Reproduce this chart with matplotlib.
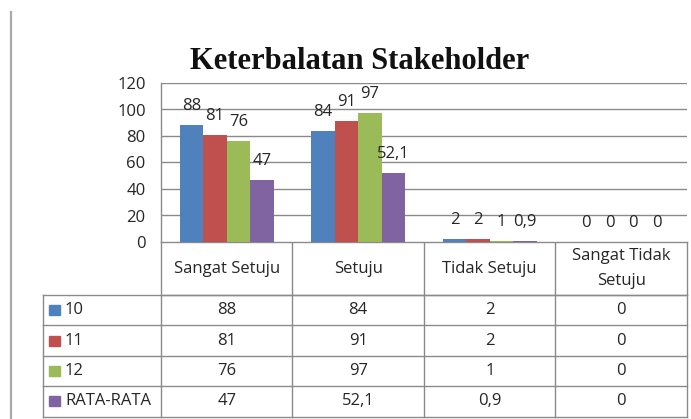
import matplotlib
matplotlib.use("Agg")
import matplotlib.pyplot as plt
from matplotlib.patches import Rectangle
from matplotlib.lines import Line2D

# ---- data ----
categories = ["Sangat Setuju", "Setuju", "Tidak Setuju", "Sangat Tidak\nSetuju"]
series_names = ["10", "11", "12", "RATA-RATA"]
values_10 = [88, 84, 2, 0]
values_11 = [81, 91, 2, 0]
values_12 = [76, 97, 1, 0]
values_avg = [47, 52.1, 0.9, 0]
series_values = [values_10, values_11, values_12, values_avg]
colors = ["#4F81BD", "#C0504D", "#9BBB59", "#8064A2"]
yticks = [0, 20, 40, 60, 80, 100, 120]
title = "Keterbalatan Stakeholder"


def fmt(v):
    s = ("%g" % v)
    return s.replace(".", ",")


W, H = 691, 419
DPI = 100
fig = plt.figure(figsize=(W / DPI, H / DPI), dpi=DPI)
fig.patch.set_facecolor("white")

TXT = "#262626"
GRID = "#8a8a8a"
FONT = "Open Sans"
FS = 12

# layout in pixels
px_left, px_right = 161, 687
px_top, px_zero = 83, 242
ax = fig.add_axes([px_left / W, (H - px_zero) / H,
                   (px_right - px_left) / W, (px_zero - px_top) / H])
ax.set_xlim(-0.5, len(categories) - 0.5)
ax.set_ylim(0, 120)

bw = 0.179
n = len(series_values)
for i, (vals, col) in enumerate(zip(series_values, colors)):
    xs = [c + (i - (n - 1) / 2) * bw for c in range(len(categories))]
    ax.bar(xs, vals, width=bw, color=col, zorder=3)
    for x, v in zip(xs, vals):
        ax.annotate(fmt(v), xy=(x, v), xytext=(0, 13.7), textcoords="offset points",
                    ha="center", va="center", fontsize=FS, color=TXT,
                    family=FONT, zorder=4)

ax.set_yticks(yticks)
ax.set_yticklabels([str(t) for t in yticks], fontsize=FS, color=TXT, family=FONT)
ax.tick_params(axis="y", length=0, pad=11)
ax.set_xticks([])
for g in yticks[1:]:
    ax.axhline(g, color=GRID, lw=1.0, zorder=1)
for s in ["top", "right"]:
    ax.spines[s].set_visible(False)
ax.spines["left"].set_color(GRID)
ax.spines["bottom"].set_color(GRID)
ax.spines["left"].set_linewidth(1.0)
ax.spines["bottom"].set_linewidth(1.0)

# ---- overlay in pixel coords for the data table ----
ov = fig.add_axes([0, 0, 1, 1], zorder=-1)
ov.set_xlim(0, W)
ov.set_ylim(H, 0)
ov.axis("off")

col_w = (px_right - px_left) / len(categories)
col_edges = [px_left + k * col_w for k in range(len(categories) + 1)]
hdr_bottom = 295
row_h = 30.4
row_edges = [hdr_bottom + k * row_h for k in range(len(series_names) + 1)]
lab_left = 43


def hline(x0, x1, y):
    ov.add_line(Line2D([x0, x1], [y, y], color=GRID, lw=1.0))


def vline(x, y0, y1):
    ov.add_line(Line2D([x, x], [y0, y1], color=GRID, lw=1.0))


# header
hline(px_left, px_right, hdr_bottom)
for xe in col_edges:
    vline(xe, px_zero, row_edges[-1])
for y in row_edges:
    hline(lab_left, px_right, y)
vline(lab_left, row_edges[0], row_edges[-1])

for k, cat in enumerate(categories):
    cx = (col_edges[k] + col_edges[k + 1]) / 2
    ov.text(cx, (px_zero + hdr_bottom) / 2, cat, ha="center", va="center",
            fontsize=FS, color=TXT, family=FONT, linespacing=1.75)

for r, (name, vals, col) in enumerate(zip(series_names, series_values, colors)):
    cy = (row_edges[r] + row_edges[r + 1]) / 2
    ov.add_patch(Rectangle((49, cy - 5), 11, 10, color=col))
    ov.text(65, cy, name, ha="left", va="center", fontsize=FS, color=TXT, family=FONT)
    for k, v in enumerate(vals):
        cx = (col_edges[k] + col_edges[k + 1]) / 2
        ov.text(cx, cy, fmt(v), ha="center", va="center", fontsize=FS,
                color=TXT, family=FONT)

# left frame line
ov.add_line(Line2D([11, 11], [12, H], color="#aaaaaa", lw=1.6))

# title
fig.text(360 / W, (H - 69) / H, title, ha="center", va="baseline",
         fontsize=22, fontweight="bold", family="Liberation Serif", color="#111111")

fig.savefig("out.png", dpi=DPI, facecolor="white")
